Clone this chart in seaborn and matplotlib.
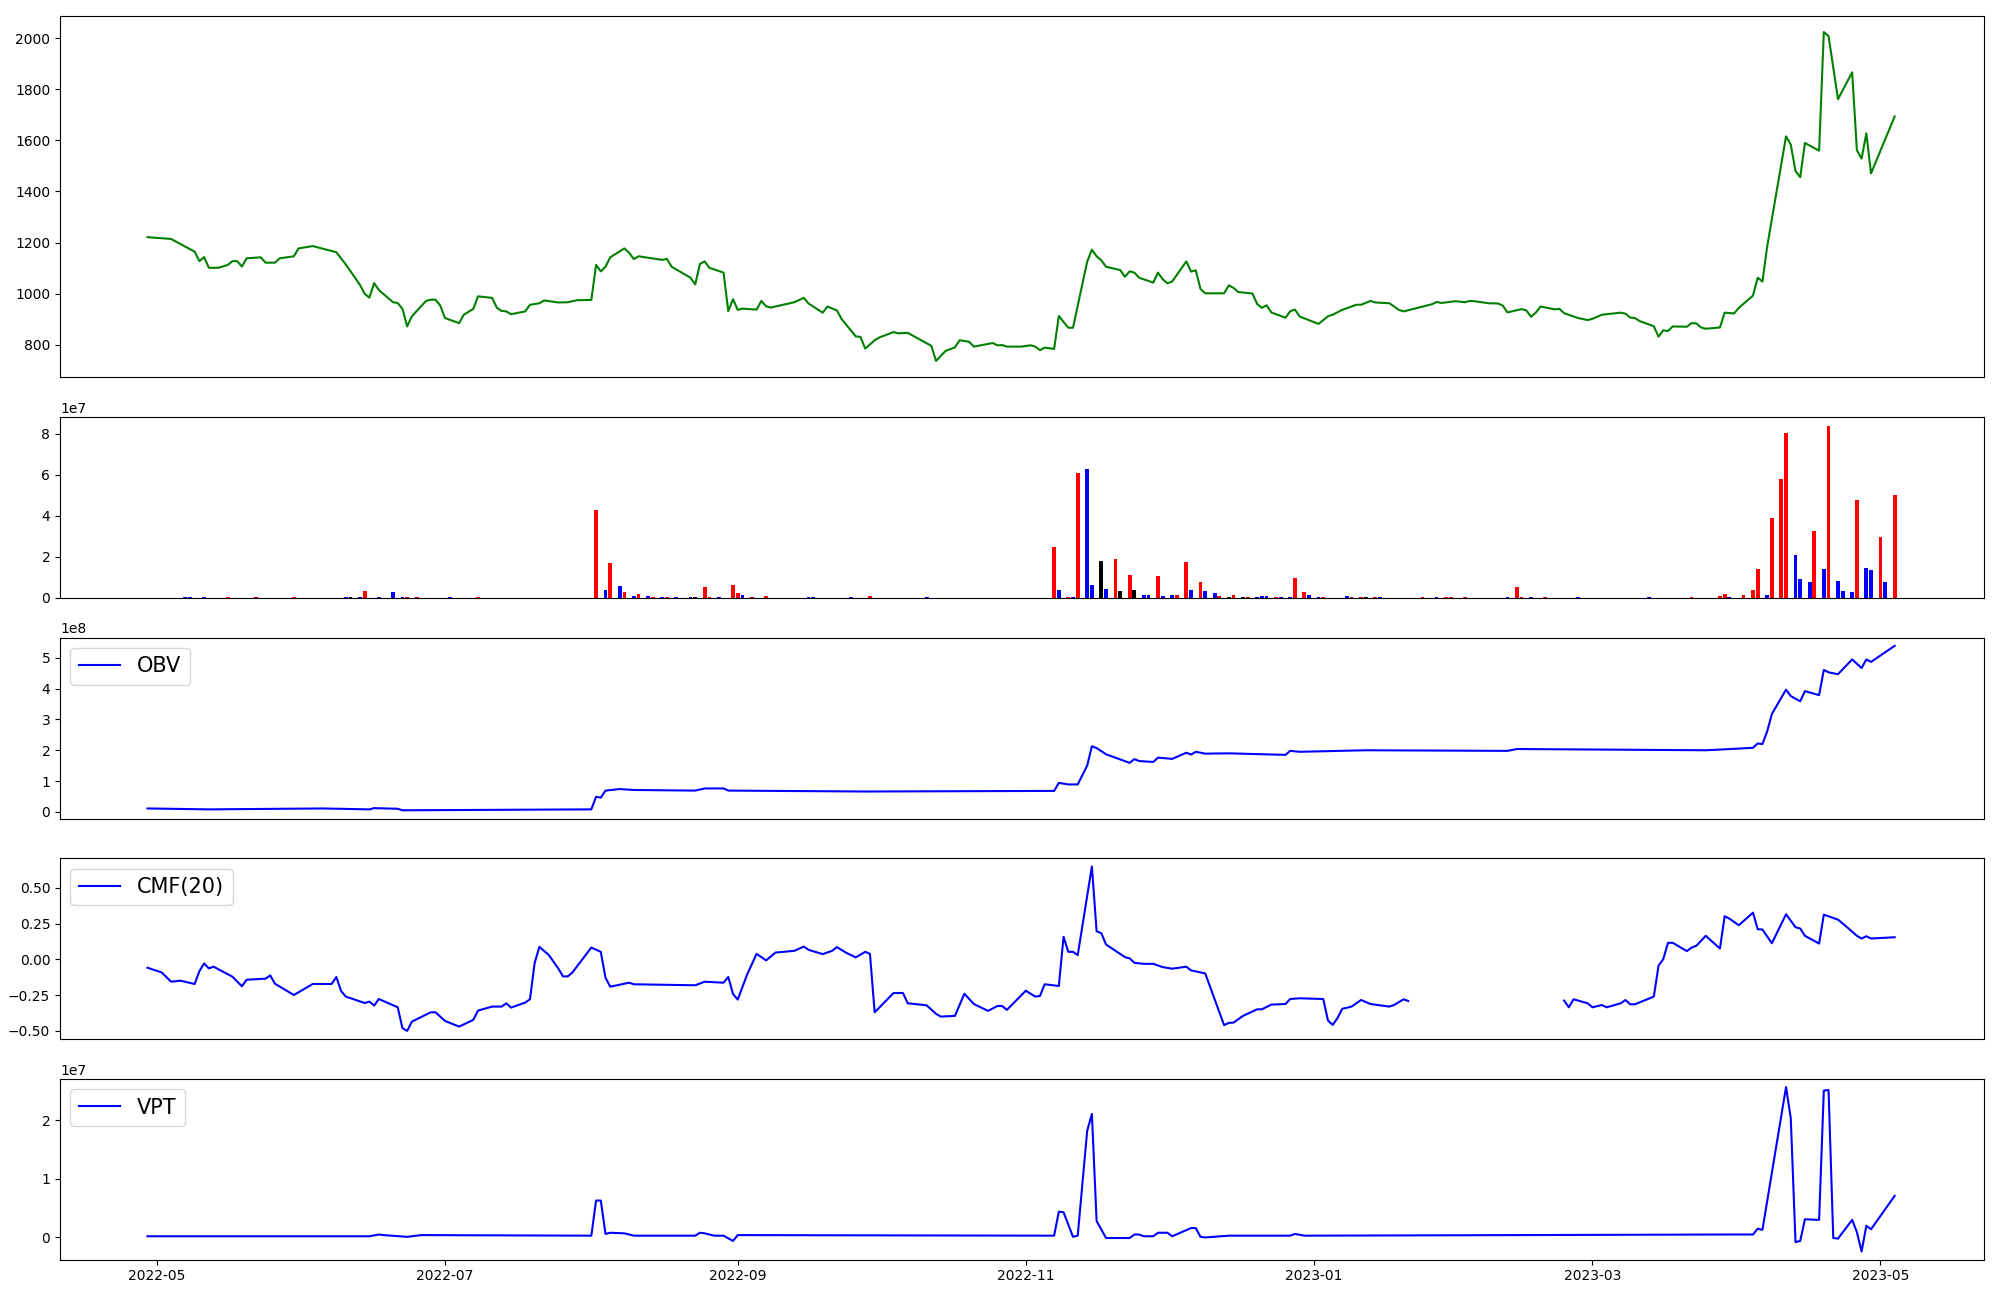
import numpy as np
import pandas as pd
import matplotlib
matplotlib.use("Agg")
import matplotlib.pyplot as plt
import seaborn as sns

# ==============================================
# DATOS
# ==============================================
# dias contados desde la primera sesion
FECHA_BASE = pd.Timestamp("2022-04-29")

price_days = [
    0, 5, 10, 11, 12, 13, 15, 17, 18, 19,
    20, 21, 24, 25, 27, 28, 31, 32, 35, 40,
    42, 45, 46, 47, 48, 49, 52, 53, 54, 55,
    56, 59, 60, 61, 62, 63, 66, 67, 69, 70,
    73, 74, 75, 76, 77, 80, 81, 83, 84, 87,
    89, 91, 94, 95, 96, 97, 98, 101, 102, 103,
    104, 109, 110, 111, 115, 116, 117, 118, 119, 122,
    123, 124, 125, 126, 129, 130, 131, 132, 137, 139,
    140, 143, 144, 146, 147, 150, 151, 152, 154, 155,
    158, 159, 161, 166, 167, 169, 171, 172, 174, 175,
    179, 180, 181, 182, 185, 187, 188, 189, 190, 192,
    193, 195, 196, 199, 200, 201, 202, 203, 206, 207,
    208, 209, 210, 213, 214, 215, 216, 217, 220, 221,
    222, 223, 224, 228, 229, 230, 231, 234, 235, 236,
    237, 238, 241, 242, 243, 244, 248, 250, 251, 253,
    256, 257, 259, 260, 263, 265, 266, 272, 273, 274,
    277, 279, 280, 281, 284, 286, 287, 288, 291, 292,
    293, 294, 295, 298, 299, 300, 303, 305, 306, 308,
    309, 312, 313, 314, 315, 316, 319, 320, 321, 322,
    323, 326, 327, 328, 329, 330, 333, 334, 336, 337,
    340, 341, 342, 343, 347, 348, 349, 350, 351, 354,
    355, 356, 357, 358, 361, 362, 363, 364, 365, 370,
]
price_close = [
    1221, 1214, 1164, 1127, 1143, 1101, 1101, 1112, 1127, 1127,
    1106, 1138, 1142, 1121, 1121, 1138, 1146, 1177, 1186, 1162,
    1114, 1034, 999, 984, 1041, 1014, 966, 963, 940, 871,
    911, 971, 976, 976, 953, 904, 884, 917, 940, 989,
    983, 944, 932, 930, 919, 930, 956, 962, 973, 965,
    966, 974, 975, 1112, 1087, 1105, 1142, 1177, 1160, 1135,
    1146, 1132, 1136, 1105, 1062, 1036, 1116, 1126, 1101, 1082,
    931, 978, 936, 941, 937, 971, 950, 945, 966, 983,
    961, 925, 949, 934, 900, 832, 830, 784, 817, 828,
    849, 844, 846, 795, 736, 775, 789, 817, 811, 792,
    806, 797, 798, 792, 792, 797, 792, 778, 788, 783,
    912, 866, 866, 1125, 1172, 1146, 1130, 1105, 1092, 1066,
    1087, 1082, 1062, 1043, 1082, 1056, 1040, 1047, 1126, 1086,
    1091, 1018, 1001, 1001, 1032, 1022, 1006, 1000, 959, 944,
    954, 926, 905, 931, 937, 910, 881, 911, 917, 936,
    956, 956, 971, 965, 962, 936, 930, 958, 967, 963,
    970, 966, 971, 970, 962, 961, 953, 926, 939, 934,
    909, 925, 949, 938, 940, 923, 904, 896, 901, 917,
    919, 925, 921, 906, 904, 892, 872, 831, 856, 853,
    871, 870, 884, 883, 867, 862, 867, 925, 922, 944,
    992, 1062, 1047, 1184, 1616, 1584, 1480, 1456, 1590, 1560,
    2025, 2009, 1885, 1762, 1867, 1562, 1529, 1628, 1471, 1694,
]

# volumen en millones; 'u' sube, 'd' baja, 'f' sin cambio
vol_days = [
    8, 9, 12, 17, 23, 31, 42, 43, 45, 46,
    49, 52, 54, 55, 57, 64, 70, 95, 97, 98,
    100, 101, 103, 104, 106, 107, 109, 110, 112, 115,
    116, 118, 119, 121, 124, 125, 126, 128, 131, 140,
    141, 149, 153, 165, 192, 193, 195, 196, 197, 199,
    200, 202, 203, 205, 206, 208, 209, 211, 212, 214,
    215, 217, 218, 220, 221, 223, 224, 226, 227, 229,
    230, 232, 233, 235, 236, 237, 239, 240, 242, 243,
    245, 246, 248, 249, 254, 255, 257, 258, 260, 261,
    270, 273, 275, 276, 279, 288, 290, 291, 293, 296,
    303, 318, 327, 333, 334, 335, 338, 340, 341, 343,
    344, 346, 347, 349, 350, 352, 353, 355, 356, 358,
    359, 361, 362, 364, 365, 367, 368, 370,
]
vol_mill = [
    0.5, 0.5, 0.5, 0.5, 0.5, 0.5, 0.5, 0.5, 0.5, 3.6,
    0.5, 3.1, 0.5, 0.5, 0.5, 0.5, 0.5, 43.0, 4.1, 17.2,
    6.0, 3.1, 1.1, 2.1, 1.1, 0.5, 0.5, 0.5, 0.5, 0.5,
    0.5, 5.5, 0.5, 0.5, 6.5, 2.6, 1.6, 0.5, 1.1, 0.5,
    0.5, 0.5, 1.1, 0.5, 25.0, 4.1, 0.5, 0.5, 61.0, 63.0,
    6.5, 18.2, 4.5, 19.2, 3.6, 11.4, 4.1, 1.6, 1.6, 10.9,
    1.1, 1.6, 1.6, 17.7, 4.1, 8.0, 3.6, 2.6, 1.1, 0.6,
    1.6, 0.5, 0.5, 0.5, 1.1, 1.1, 0.5, 0.5, 0.5, 9.9,
    3.1, 1.6, 0.5, 0.5, 1.1, 0.5, 0.5, 0.5, 0.5, 0.5,
    0.5, 0.5, 0.5, 0.5, 0.5, 0.5, 5.5, 0.5, 0.5, 0.5,
    0.5, 0.5, 0.5, 1.1, 2.1, 0.5, 1.6, 4.1, 14.3, 1.6,
    39.1, 58.1, 80.5, 21.1, 9.4, 8.0, 32.8, 14.3, 84.0, 8.4,
    3.6, 3.1, 47.9, 14.8, 13.8, 29.9, 8.0, 50.3,
]
vol_dir = [
    'd', 'd', 'd', 'u', 'u', 'u', 'd', 'f', 'd', 'u',
    'd', 'd', 'd', 'u', 'u', 'd', 'u', 'u', 'd', 'u',
    'd', 'u', 'd', 'u', 'd', 'u', 'd', 'u', 'd', 'd',
    'f', 'u', 'u', 'd', 'u', 'u', 'd', 'u', 'u', 'd',
    'd', 'd', 'u', 'd', 'u', 'd', 'u', 'd', 'u', 'd',
    'd', 'f', 'd', 'u', 'f', 'u', 'f', 'd', 'd', 'u',
    'd', 'd', 'u', 'u', 'd', 'u', 'd', 'd', 'u', 'f',
    'u', 'f', 'u', 'd', 'd', 'd', 'u', 'd', 'd', 'u',
    'u', 'd', 'd', 'u', 'd', 'u', 'u', 'f', 'u', 'd',
    'u', 'd', 'u', 'u', 'u', 'd', 'u', 'u', 'd', 'u',
    'd', 'd', 'u', 'u', 'u', 'd', 'u', 'u', 'u', 'd',
    'u', 'u', 'u', 'd', 'd', 'd', 'u', 'd', 'u', 'd',
    'd', 'd', 'u', 'd', 'd', 'u', 'd', 'u',
]

# OBV en millones
obv_days = [
    0, 13, 37, 47, 48, 53, 54, 94, 95, 96,
    97, 100, 103, 116, 118, 122, 123, 152, 192, 193,
    195, 197, 199, 200, 201, 203, 208, 209, 210, 213,
    214, 217, 220, 221, 222, 224, 229, 241, 242, 244,
    258, 288, 290, 330, 334, 340, 341, 342, 343, 344,
    347, 348, 350, 351, 354, 355, 356, 358, 361, 363,
    364, 365, 370,
]
obv_mill = [
    11, 8, 11, 8, 12, 10, 5, 8, 49, 46,
    69, 74, 71, 69, 76, 76, 69, 66, 68, 94,
    89, 89, 150, 213, 207, 187, 159, 171, 165, 162,
    176, 172, 192, 186, 195, 189, 190, 185, 198, 195,
    200, 198, 204, 200, 203, 208, 222, 220, 261, 318,
    397, 376, 359, 392, 379, 461, 453, 447, 495, 467,
    495, 487, 539,
]

# CMF(20), NaN = sin dato
cmf_days = [
    0, 3, 5, 7, 10, 11, 12, 13, 14, 18,
    20, 21, 25, 26, 27, 31, 35, 39, 40, 41,
    42, 46, 47, 48, 49, 53, 54, 55, 56, 60,
    61, 63, 66, 69, 70, 73, 75, 76, 77, 80,
    81, 82, 83, 85, 87, 88, 89, 90, 94, 96,
    97, 98, 102, 103, 116, 118, 122, 123, 124, 125,
    127, 129, 131, 133, 137, 139, 140, 143, 145, 146,
    148, 150, 152, 153, 154, 158, 160, 161, 165, 167,
    168, 171, 173, 175, 178, 180, 181, 182, 186, 188,
    189, 190, 193, 194, 195, 196, 197, 200, 201, 202,
    203, 207, 208, 209, 211, 213, 215, 217, 220, 221,
    223, 224, 228, 229, 230, 232, 235, 236, 238, 241,
    242, 244, 249, 250, 251, 252, 253, 255, 257, 259,
    263, 264, 266, 267, 268, 300, 301, 302, 305, 306,
    308, 309, 312, 313, 314, 315, 319, 320, 321, 322,
    323, 326, 327, 328, 330, 333, 334, 335, 337, 340,
    341, 342, 344, 347, 349, 350, 351, 354, 355, 358,
    360, 362, 363, 364, 365, 370,
]
cmf_vals = [
    -0.058, -0.091, -0.156, -0.149, -0.172, -0.082, -0.028, -0.063, -0.051, -0.121,
    -0.188, -0.142, -0.135, -0.112, -0.170, -0.249, -0.172, -0.172, -0.123, -0.221,
    -0.260, -0.305, -0.295, -0.323, -0.277, -0.335, -0.481, -0.500, -0.435, -0.370,
    -0.370, -0.430, -0.470, -0.423, -0.358, -0.330, -0.330, -0.307, -0.337, -0.302,
    -0.279, -0.024, 0.088, 0.030, -0.063, -0.119, -0.119, -0.091, 0.083, 0.053,
    -0.128, -0.191, -0.163, -0.174, -0.181, -0.156, -0.163, -0.123, -0.242, -0.281,
    -0.105, 0.039, -0.007, 0.048, 0.060, 0.090, 0.067, 0.037, 0.060, 0.086,
    0.046, 0.014, 0.053, 0.039, -0.370, -0.235, -0.235, -0.307, -0.321, -0.381,
    -0.400, -0.395, -0.240, -0.312, -0.360, -0.326, -0.326, -0.353, -0.219, -0.260,
    -0.256, -0.174, -0.186, 0.158, 0.053, 0.053, 0.030, 0.650, 0.197, 0.183,
    0.104, 0.016, 0.007, -0.024, -0.031, -0.031, -0.054, -0.065, -0.051, -0.077,
    -0.091, -0.098, -0.460, -0.444, -0.442, -0.395, -0.349, -0.349, -0.316, -0.312,
    -0.277, -0.272, -0.277, -0.428, -0.458, -0.411, -0.346, -0.330, -0.284, -0.312,
    -0.330, -0.319, -0.279, -0.291, np.nan, -0.288, -0.335, -0.279, -0.307, -0.335,
    -0.319, -0.335, -0.307, -0.284, -0.314, -0.314, -0.260, -0.044, 0.002, 0.116,
    0.116, 0.058, 0.083, 0.095, 0.165, 0.076, 0.302, 0.285, 0.239, 0.327,
    0.211, 0.209, 0.113, 0.316, 0.225, 0.216, 0.165, 0.111, 0.313, 0.278,
    0.223, 0.165, 0.146, 0.162, 0.146, 0.155,
]

# VPT en millones
vpt_days = [
    0, 47, 49, 50, 55, 58, 94, 95, 96, 97,
    98, 101, 103, 116, 117, 118, 120, 122, 124, 125,
    192, 193, 194, 196, 197, 199, 200, 201, 203, 208,
    209, 210, 211, 213, 214, 216, 217, 221, 222, 223,
    224, 229, 242, 243, 245, 334, 340, 341, 342, 347,
    348, 349, 350, 351, 354, 355, 356, 357, 358, 361,
    362, 363, 364, 365, 370,
]
vpt_mill = [
    0.2, 0.2, 0.5, 0.4, 0.1, 0.4, 0.3, 6.3, 6.3, 0.6,
    0.8, 0.7, 0.3, 0.3, 0.8, 0.7, 0.3, 0.3, -0.6, 0.4,
    0.3, 4.4, 4.3, 0.1, 0.3, 18.2, 21.1, 2.8, -0.1, -0.1,
    0.5, 0.5, 0.2, 0.2, 0.8, 0.8, 0.2, 1.6, 1.6, 0.1,
    0.0, 0.3, 0.3, 0.6, 0.3, 0.5, 0.5, 1.5, 1.3, 25.7,
    20.4, -0.8, -0.6, 3.1, 3.0, 25.1, 25.2, -0.1, -0.2, 3.0,
    0.9, -2.4, 2.0, 1.4, 7.1,
]

COLORES_VOL = {'u': 'red', 'd': 'blue', 'f': 'black'}


def a_fechas(dias):
    return FECHA_BASE + pd.to_timedelta(dias, unit='D')


# ==============================================
# GRAFICO
# ==============================================
fig, axes = plt.subplots(5, 1, figsize=(20, 13), dpi=100, sharex=True,
                         gridspec_kw={'height_ratios': [2, 1, 1, 1, 1]})
fig.subplots_adjust(left=0.030, right=0.992, top=0.988, bottom=0.031, hspace=0.183)
ax_precio, ax_vol, ax_obv, ax_cmf, ax_vpt = axes

# 1. Precio
sns.lineplot(x=a_fechas(price_days), y=price_close, ax=ax_precio, color='green')

# 2. Volumen
ax_vol.bar(a_fechas(vol_days), np.array(vol_mill) * 1e6, width=0.8,
           color=[COLORES_VOL[d] for d in vol_dir])

# 3. OBV
sns.lineplot(x=a_fechas(obv_days), y=np.array(obv_mill) * 1e6, ax=ax_obv,
             color='blue', label='OBV')

# 4. CMF (tramos separados por el hueco sin datos)
df_cmf = pd.DataFrame({'fecha': a_fechas(cmf_days), 'cmf': cmf_vals})
df_cmf['tramo'] = df_cmf['cmf'].isna().cumsum()
df_cmf = df_cmf.dropna()
for i, (_, tramo) in enumerate(df_cmf.groupby('tramo')):
    sns.lineplot(data=tramo, x='fecha', y='cmf', ax=ax_cmf, color='blue',
                 label='CMF(20)' if i == 0 else None)

# 5. VPT
sns.lineplot(x=a_fechas(vpt_days), y=np.array(vpt_mill) * 1e6, ax=ax_vpt,
             color='blue', label='VPT')

for ax in (ax_obv, ax_cmf, ax_vpt):
    ax.legend(loc='upper left', fontsize=15)

for ax in axes:
    ax.set_xlabel('')
    ax.set_ylabel('')
for ax in axes[:-1]:
    ax.tick_params(axis='x', which='both', bottom=False, labelbottom=False)

plt.savefig('out.png')
plt.close()
